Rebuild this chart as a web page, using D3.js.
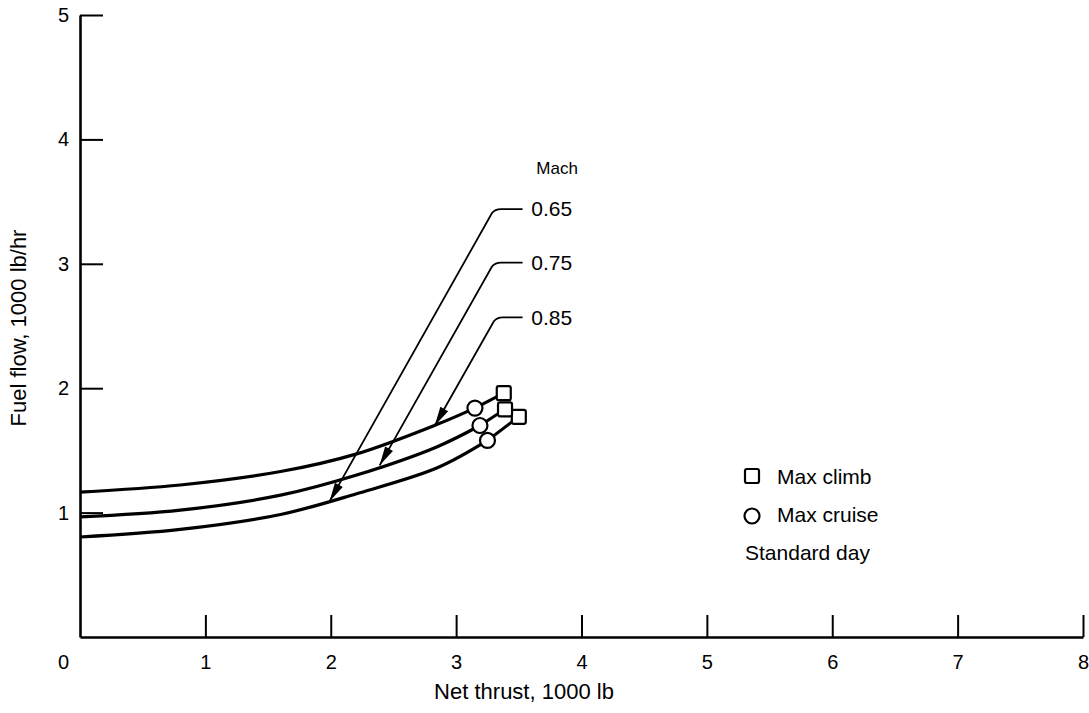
<!DOCTYPE html>
<html><head><meta charset="utf-8">
<script src="https://cdn.jsdelivr.net/npm/d3@7"></script>
<style>
body{margin:0;background:#fff;}
text{font-family:"Liberation Sans",Arial,sans-serif;fill:#000;}
</style></head>
<body><svg id="c" width="1089" height="713"></svg>
<script>
// ---- data ----
const machLabels = ["0.65", "0.75", "0.85"];
const thrust065 = [0, 0.8, 1.6, 2.2, 2.85, 3.25];
const fuel065   = [0.804, 0.865, 0.985, 1.15, 1.36, 1.58];
const thrust075 = [0, 0.8, 1.6, 2.2, 2.85, 3.19];
const fuel075   = [0.965, 1.02, 1.14, 1.30, 1.53, 1.70];
const thrust085 = [0, 0.8, 1.6, 2.2, 2.85, 3.15];
const fuel085   = [1.165, 1.222, 1.33, 1.47, 1.71, 1.84];
const cruiseThrust = [3.25, 3.19, 3.15];   // circles (max cruise)
const cruiseFuel   = [1.58, 1.70, 1.84];
const climbThrust  = [3.50, 3.39, 3.38];   // squares (max climb)
const climbFuel    = [1.77, 1.83, 1.96];
// leader annotation: arrow tip on curve, and bend point near label
const tipThrust = [1.99, 2.39, 2.83];
const tipFuel   = [1.09, 1.38, 1.70];
const bendThrust = [3.31, 3.31, 3.325];
const bendFuel   = [3.44, 3.01, 2.57];
const xTicks = [0, 1, 2, 3, 4, 5, 6, 7, 8];
const yTicks = [1, 2, 3, 4, 5];

const svg = d3.select("#c");
const x = d3.scaleLinear().domain([0, 8]).range([80, 1083]);
const y = d3.scaleLinear().domain([0, 5]).range([637, 15]);

// axes
const xAxis = d3.axisBottom(x).tickValues(xTicks).tickSizeInner(-22).tickSizeOuter(0).tickPadding(18).tickFormat(d3.format("d"));
const gx = svg.append("g").attr("transform", "translate(0,637)").call(xAxis);
gx.select(".domain").attr("stroke-width", 2.6);
gx.selectAll(".tick line").attr("stroke-width", 2);
gx.selectAll(".tick").filter(d => d === 0).select("line").remove();
gx.selectAll(".tick").filter(d => d === 0).select("text").attr("dx", -17);
gx.selectAll("text").attr("font-size", 20).attr("font-family", "Liberation Sans, Arial, sans-serif");

const yAxis = d3.axisLeft(y).tickValues(yTicks).tickSizeInner(-23).tickSizeOuter(0).tickPadding(11).tickFormat(d3.format("d"));
const gy = svg.append("g").attr("transform", "translate(80,0)").call(yAxis);
gy.select(".domain").attr("stroke-width", 2.6);
gy.selectAll(".tick line").attr("stroke-width", 2);
gy.selectAll("text").attr("font-size", 20).attr("font-family", "Liberation Sans, Arial, sans-serif");

svg.append("text").attr("x", 524).attr("y", 699).attr("text-anchor", "middle")
  .attr("font-size", 22).text("Net thrust, 1000 lb");
svg.append("text").attr("transform", "translate(26,328) rotate(-90)").attr("text-anchor", "middle")
  .attr("font-size", 22).text("Fuel flow, 1000 lb/hr");

// curves
const series = [
  {t: thrust065, f: fuel065},
  {t: thrust075, f: fuel075},
  {t: thrust085, f: fuel085}
];
const line = d3.line().x(d => x(d[0])).y(d => y(d[1])).curve(d3.curveCatmullRom.alpha(0.5));
series.forEach((s, i) => {
  const pts = s.t.map((t, j) => [t, s.f[j]]);
  svg.append("path").attr("d", line(pts)).attr("fill", "none").attr("stroke", "#000").attr("stroke-width", 3.2);
  // segment from max cruise to max climb
  svg.append("line")
    .attr("x1", x(cruiseThrust[i])).attr("y1", y(cruiseFuel[i]))
    .attr("x2", x(climbThrust[i])).attr("y2", y(climbFuel[i]))
    .attr("stroke", "#000").attr("stroke-width", 3);
});

// squares
const sq = 14;
svg.selectAll("rect.climb").data(climbThrust.map((t, i) => [t, climbFuel[i]])).enter()
  .append("rect").attr("class", "climb")
  .attr("x", d => x(d[0]) - sq / 2).attr("y", d => y(d[1]) - sq / 2)
  .attr("width", sq).attr("height", sq).attr("rx", 2)
  .attr("fill", "#fff").attr("stroke", "#000").attr("stroke-width", 2.2);
// circles
svg.selectAll("circle.cruise").data(cruiseThrust.map((t, i) => [t, cruiseFuel[i]])).enter()
  .append("circle").attr("class", "cruise")
  .attr("cx", d => x(d[0])).attr("cy", d => y(d[1])).attr("r", 7.5)
  .attr("fill", "#fff").attr("stroke", "#000").attr("stroke-width", 2.2);

// leaders with arrowheads
machLabels.forEach((lab, i) => {
  const tx = x(tipThrust[i]), ty = y(tipFuel[i]);
  const bx = x(bendThrust[i]), by = y(bendFuel[i]);
  const ex = x(3.53);
  svg.append("path")
    .attr("d", `M${tx},${ty}L${bx - 3},${by + 4}Q${bx},${by} ${bx + 6},${by}L${ex},${by}`)
    .attr("fill", "none").attr("stroke", "#000").attr("stroke-width", 1.8);
  const ang = Math.atan2(by - ty, bx - tx);
  const L = 19, W = 4.5;
  const ux = Math.cos(ang), uy = Math.sin(ang);
  const p1 = [tx + ux * L - uy * W, ty + uy * L + ux * W];
  const p2 = [tx + ux * L + uy * W, ty + uy * L - ux * W];
  svg.append("path").attr("d", `M${tx},${ty}L${p1[0]},${p1[1]}L${p2[0]},${p2[1]}Z`).attr("fill", "#000");
  svg.append("text").attr("x", x(3.6)).attr("y", by).attr("dy", "0.35em")
    .attr("font-size", 21).text(lab);
});
svg.append("text").attr("x", x(3.64)).attr("y", y(3.77)).attr("dy", "0.35em")
  .attr("font-size", 17).text("Mach");

// legend
svg.append("rect").attr("x", 745).attr("y", 469).attr("width", 14).attr("height", 14).attr("rx", 2)
  .attr("fill", "#fff").attr("stroke", "#000").attr("stroke-width", 2.2);
svg.append("text").attr("x", 777).attr("y", 477).attr("dy", "0.35em").attr("font-size", 21).text("Max climb");
svg.append("circle").attr("cx", 752).attr("cy", 516).attr("r", 7.5)
  .attr("fill", "#fff").attr("stroke", "#000").attr("stroke-width", 2.2);
svg.append("text").attr("x", 777).attr("y", 515).attr("dy", "0.35em").attr("font-size", 21).text("Max cruise");
svg.append("text").attr("x", 745).attr("y", 553).attr("dy", "0.35em").attr("font-size", 21).text("Standard day");
</script></body></html>
